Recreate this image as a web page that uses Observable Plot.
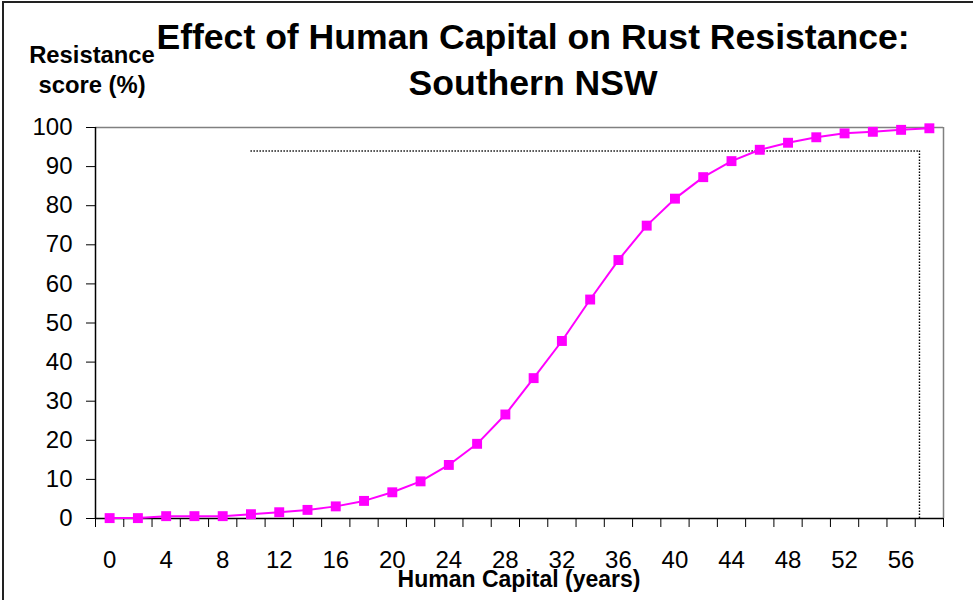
<!DOCTYPE html>
<html>
<head>
<meta charset="utf-8">
<script src="https://cdn.jsdelivr.net/npm/d3@7"></script>
<script src="https://cdn.jsdelivr.net/npm/@observablehq/plot@0.6"></script>
<style>
  html, body { margin: 0; padding: 0; background: #fff; }
  #wrap { position: relative; width: 973px; height: 600px; overflow: hidden; font-family: "Liberation Sans", Arial, sans-serif; color: #000; }
  #border { position: absolute; left: 2px; top: 1px; width: 990px; height: 620px; border-left: 2px solid #222; border-top: 2px solid #222; pointer-events: none; }
  .t { position: absolute; white-space: nowrap; font-weight: bold; pointer-events: none; }
  #title1, #title2 { font-size: 35.6px; line-height: 35px; left: 533px; transform: translateX(-50%); }
  #title1 { top: 20px; }
  #title2 { top: 66px; }
  #ylab { font-size: 23.8px; line-height: 30px; left: 92px; top: 40px; transform: translateX(-50%); text-align: center; }
  #xlab { font-size: 23px; line-height: 23px; left: 519px; top: 568px; transform: translateX(-50%); }
</style>
</head>
<body>
<div id="wrap">
  <div id="chart"></div>
  <div id="border"></div>
  <div class="t" id="title1"></div>
  <div class="t" id="title2"></div>
  <div class="t" id="ylab"></div>
  <div class="t" id="xlab"></div>
</div>
<script>
// ---- Data ----
const titleLines = ["Effect of Human Capital on Rust Resistance:", "Southern NSW"];
const yLabelLines = ["Resistance", "score (%)"];
const xLabel = "Human Capital (years)";

const years = [0, 2, 4, 6, 8, 10, 12, 14, 16, 18, 20, 22, 24, 26, 28, 30, 32, 34, 36, 38, 40, 42, 44, 46, 48, 50, 52, 54, 56, 58];
const resistance = [0.1, 0.1, 0.6, 0.6, 0.6, 1.1, 1.6, 2.2, 3.1, 4.5, 6.7, 9.5, 13.7, 19.1, 26.6, 35.9, 45.4, 56.0, 66.1, 74.9, 81.8, 87.3, 91.4, 94.3, 96.1, 97.5, 98.5, 98.9, 99.4, 99.8];

const xTickLabels = [0, 4, 8, 12, 16, 20, 24, 28, 32, 36, 40, 44, 48, 52, 56];
const yTickLabels = [0, 10, 20, 30, 40, 50, 60, 70, 80, 90, 100];

// dotted reference line (94% level)
const refLevel = 94;
const refStartYear = 10;
const refEndYear = 57.3;

// ---- Build ----
document.getElementById("title1").textContent = titleLines[0];
document.getElementById("title2").textContent = titleLines[1];
document.getElementById("ylab").innerHTML = yLabelLines.join("<br>");
document.getElementById("xlab").textContent = xLabel;

const data = years.map((x, i) => ({x, y: resistance[i]}));
const step = years[1] - years[0];
const xMin = years[0] - step / 2;
const xMax = years[years.length - 1] + step / 2;
// category boundaries (tick marks between categories)
const boundaries = years.map(v => v - step / 2).concat([xMax]);

const refH = [{y: refLevel, x1: refStartYear, x2: refEndYear}];
const refV = [{x: refEndYear, y1: 0, y2: refLevel}];

const chart = Plot.plot({
  width: 973,
  height: 600,
  marginLeft: 95,
  marginRight: 30,
  marginTop: 127,
  marginBottom: 82,
  style: {fontFamily: "Liberation Sans, Arial, sans-serif", fontSize: "24px", color: "#000", background: "transparent", overflow: "visible"},
  x: {type: "linear", domain: [xMin, xMax]},
  y: {type: "linear", domain: [0, 100]},
  marks: [
    // plot area border (top/right gray)
    Plot.ruleY([100], {stroke: "#808080", strokeWidth: 1.5}),
    Plot.ruleX([xMax], {stroke: "#808080", strokeWidth: 1.5}),
    // dotted reference lines
    Plot.ruleY(refH, {y: "y", x1: "x1", x2: "x2", stroke: "#000", strokeWidth: 1.4, strokeDasharray: "1.4,1.6"}),
    Plot.ruleX(refV, {x: "x", y1: "y1", y2: "y2", stroke: "#000", strokeWidth: 1.4, strokeDasharray: "1.4,1.6"}),
    // axes
    Plot.axisY({ticks: yTickLabels, tickSize: 9, tickPadding: 14, fontSize: 24, label: null, stroke: "#000"}),
    Plot.axisX({ticks: boundaries, tickSize: 9, tickFormat: () => "", label: null, stroke: "#000"}),
    Plot.axisX({ticks: xTickLabels, tickSize: 0, tickPadding: 32, fontSize: 24, label: null}),
    Plot.ruleX([xMin], {stroke: "#000", strokeWidth: 1.5}),
    Plot.ruleY([0], {stroke: "#000", strokeWidth: 1.5}),
    // series
    Plot.line(data, {x: "x", y: "y", stroke: "#ff00ff", strokeWidth: 2}),
    Plot.dot(data, {x: "x", y: "y", symbol: "square", r: 5.6, fill: "#ff00ff", stroke: "none"})
  ]
});
document.getElementById("chart").appendChild(chart);
</script>
</body>
</html>
